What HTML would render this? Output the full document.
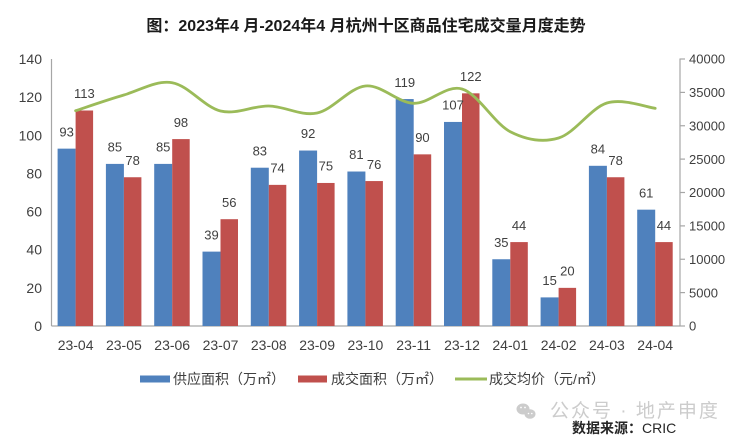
<!DOCTYPE html>
<html>
<head>
<meta charset="utf-8">
<style>
  html,body{margin:0;padding:0;background:#fff;}
  svg{display:block;}
  .t{font-family:"Liberation Sans","Noto Sans CJK SC",sans-serif;fill:#404040;}
</style>
</head>
<body>
<svg width="740" height="443" viewBox="0 0 740 443" xmlns="http://www.w3.org/2000/svg">
  <rect x="0" y="0" width="740" height="443" fill="#fff"/>

  <!-- Title -->
  <text x="366" y="31" text-anchor="middle" font-family="'Liberation Sans','Noto Sans CJK SC',sans-serif" font-weight="bold" font-size="16" fill="#1a1a1a">图：2023年4 月-2024年4 月杭州十区商品住宅成交量月度走势</text>

  <!-- Axes -->
  <line x1="51.5" y1="59" x2="51.5" y2="326" stroke="#a6a6a6" stroke-width="1.2"/>
  <line x1="51.5" y1="326" x2="680" y2="326" stroke="#a6a6a6" stroke-width="1.2"/>
  <line x1="680" y1="58.5" x2="680" y2="326" stroke="#a6a6a6" stroke-width="1.2"/>
  <g stroke="#a6a6a6" stroke-width="1.2">
    <line x1="680" y1="59" x2="685" y2="59"/>
    <line x1="680" y1="92.4" x2="685" y2="92.4"/>
    <line x1="680" y1="125.75" x2="685" y2="125.75"/>
    <line x1="680" y1="159.1" x2="685" y2="159.1"/>
    <line x1="680" y1="192.5" x2="685" y2="192.5"/>
    <line x1="680" y1="225.9" x2="685" y2="225.9"/>
    <line x1="680" y1="259.25" x2="685" y2="259.25"/>
    <line x1="680" y1="292.6" x2="685" y2="292.6"/>
    <line x1="680" y1="326" x2="685" y2="326"/>
  </g>

  <!-- Left tick labels -->
  <g class="t" font-size="14" text-anchor="end">
    <text x="42" y="64">140</text>
    <text x="42" y="102.1">120</text>
    <text x="42" y="140.3">100</text>
    <text x="42" y="178.4">80</text>
    <text x="42" y="216.6">60</text>
    <text x="42" y="254.7">40</text>
    <text x="42" y="292.9">20</text>
    <text x="42" y="331">0</text>
  </g>

  <!-- Right tick labels -->
  <g class="t" font-size="13" text-anchor="start">
    <text x="689" y="63.7">40000</text>
    <text x="689" y="97.1">35000</text>
    <text x="689" y="130.4">30000</text>
    <text x="689" y="163.8">25000</text>
    <text x="689" y="197.2">20000</text>
    <text x="689" y="230.6">15000</text>
    <text x="689" y="263.9">10000</text>
    <text x="689" y="297.3">5000</text>
    <text x="689" y="330.7">0</text>
  </g>

  <!-- Blue bars -->
  <g fill="#4f81bd">
    <rect x="57.6" y="148.64" width="18" height="177.36"/>
    <rect x="105.9" y="163.9" width="18" height="162.1"/>
    <rect x="154.2" y="163.9" width="18" height="162.1"/>
    <rect x="202.5" y="251.62" width="18" height="74.38"/>
    <rect x="250.8" y="167.71" width="18" height="158.29"/>
    <rect x="299.1" y="150.54" width="18" height="175.46"/>
    <rect x="347.4" y="171.52" width="18" height="154.48"/>
    <rect x="395.7" y="99.05" width="18" height="226.95"/>
    <rect x="444.0" y="121.94" width="18" height="204.06"/>
    <rect x="492.3" y="259.25" width="18" height="66.75"/>
    <rect x="540.6" y="297.39" width="18" height="28.61"/>
    <rect x="588.9" y="165.8" width="18" height="160.2"/>
    <rect x="637.2" y="209.67" width="18" height="116.33"/>
  </g>
  <!-- Red bars -->
  <g fill="#c0504d">
    <rect x="75.6" y="110.5" width="17.5" height="215.5"/>
    <rect x="123.9" y="177.24" width="17.5" height="148.76"/>
    <rect x="172.2" y="139.1" width="17.5" height="186.9"/>
    <rect x="220.5" y="219.2" width="17.5" height="106.8"/>
    <rect x="268.8" y="184.87" width="17.5" height="141.13"/>
    <rect x="317.1" y="182.96" width="17.5" height="143.04"/>
    <rect x="365.4" y="181.06" width="17.5" height="144.94"/>
    <rect x="413.7" y="154.36" width="17.5" height="171.64"/>
    <rect x="462.0" y="93.33" width="17.5" height="232.67"/>
    <rect x="510.3" y="242.09" width="17.5" height="83.91"/>
    <rect x="558.6" y="287.86" width="17.5" height="38.14"/>
    <rect x="606.9" y="177.24" width="17.5" height="148.76"/>
    <rect x="655.2" y="242.09" width="17.5" height="83.91"/>
  </g>

  <!-- Price line -->
  <path fill="none" stroke="#9bbb59" stroke-width="2.8" stroke-linecap="round" stroke-linejoin="round"
    d="M75.6,110.7 C83.65,108.08 107.8,99.67 123.9,95
       C140,90.33 156.1,80.03 172.2,82.7
       C188.3,85.37 204.4,107.12 220.5,111
       C236.6,114.88 252.7,105.67 268.8,106
       C284.9,106.33 301,116.33 317.1,113
       C333.2,109.67 349.3,87.62 365.4,86
       C381.5,84.38 397.6,102.8 413.7,103.3
       C429.8,103.8 445.9,84.27 462,89
       C478.1,93.73 494.2,123.53 510.3,131.7
       C526.4,139.87 542.5,142.78 558.6,138
       C574.7,133.22 590.8,107.95 606.9,103
       C623,98.05 647.15,107.42 655.2,108.3"/>

  <!-- Data labels blue -->
  <g class="t" font-size="13" text-anchor="middle">
    <text x="66.6" y="136.3">93</text>
    <text x="114.9" y="151.6">85</text>
    <text x="163.2" y="151.6">85</text>
    <text x="211.5" y="239.3">39</text>
    <text x="259.8" y="155.4">83</text>
    <text x="308.1" y="138.2">92</text>
    <text x="356.4" y="159.2">81</text>
    <text x="404.7" y="86.8">119</text>
    <text x="453.0" y="109.6">107</text>
    <text x="501.3" y="247">35</text>
    <text x="549.6" y="285.1">15</text>
    <text x="597.9" y="153.5">84</text>
    <text x="646.2" y="197.4">61</text>
  </g>
  <!-- Data labels red -->
  <g class="t" font-size="13" text-anchor="middle">
    <text x="84.35" y="98.2">113</text>
    <text x="132.65" y="164.9">78</text>
    <text x="180.95" y="126.8">98</text>
    <text x="229.25" y="206.9">56</text>
    <text x="277.55" y="172.6">74</text>
    <text x="325.85" y="170.7">75</text>
    <text x="374.15" y="168.8">76</text>
    <text x="422.45" y="142.1">90</text>
    <text x="470.75" y="81">122</text>
    <text x="519.05" y="229.8">44</text>
    <text x="567.35" y="275.6">20</text>
    <text x="615.65" y="164.9">78</text>
    <text x="663.95" y="229.8">44</text>
  </g>

  <!-- X labels -->
  <g class="t" font-size="14" text-anchor="middle">
    <text x="75.6" y="350">23-04</text>
    <text x="123.9" y="350">23-05</text>
    <text x="172.2" y="350">23-06</text>
    <text x="220.5" y="350">23-07</text>
    <text x="268.8" y="350">23-08</text>
    <text x="317.1" y="350">23-09</text>
    <text x="365.4" y="350">23-10</text>
    <text x="413.7" y="350">23-11</text>
    <text x="462.0" y="350">23-12</text>
    <text x="510.3" y="350">24-01</text>
    <text x="558.6" y="350">24-02</text>
    <text x="606.9" y="350">24-03</text>
    <text x="655.2" y="350">24-04</text>
  </g>

  <!-- Legend -->
  <rect x="140" y="375.5" width="30" height="7" fill="#4f81bd"/>
  <text x="173" y="384" font-family="'Liberation Sans','Noto Sans CJK SC',sans-serif" font-size="14" fill="#404040">供应面积（万㎡）</text>
  <rect x="298" y="375.5" width="29" height="7" fill="#c0504d"/>
  <text x="331" y="384" font-family="'Liberation Sans','Noto Sans CJK SC',sans-serif" font-size="14" fill="#404040">成交面积（万㎡）</text>
  <line x1="455" y1="379" x2="487" y2="379" stroke="#9bbb59" stroke-width="3"/>
  <text x="489" y="384" font-family="'Liberation Sans','Noto Sans CJK SC',sans-serif" font-size="14" fill="#404040">成交均价（元/㎡）</text>

  <!-- Watermark -->
  <g fill="#cccccc">
    <ellipse cx="523" cy="409" rx="6.5" ry="5.5"/>
    <ellipse cx="530" cy="414" rx="5.5" ry="4.8"/>
  </g>
  <g fill="#fff">
    <circle cx="521" cy="407.5" r="0.9"/>
    <circle cx="525" cy="407.5" r="0.9"/>
    <circle cx="528.5" cy="413.5" r="0.8"/>
    <circle cx="531.8" cy="413.5" r="0.8"/>
  </g>
  <text x="550" y="417" font-family="'Liberation Sans','Noto Sans CJK SC',sans-serif" font-size="19" fill="#cccccc" letter-spacing="2">公众号 · 地产申度</text>

  <!-- Source -->
  <text x="572" y="433" font-family="'Liberation Sans','Noto Sans CJK SC',sans-serif" font-size="14" font-weight="bold" fill="#262626">数据来源：<tspan font-weight="normal">CRIC</tspan></text>
</svg>
</body>
</html>
